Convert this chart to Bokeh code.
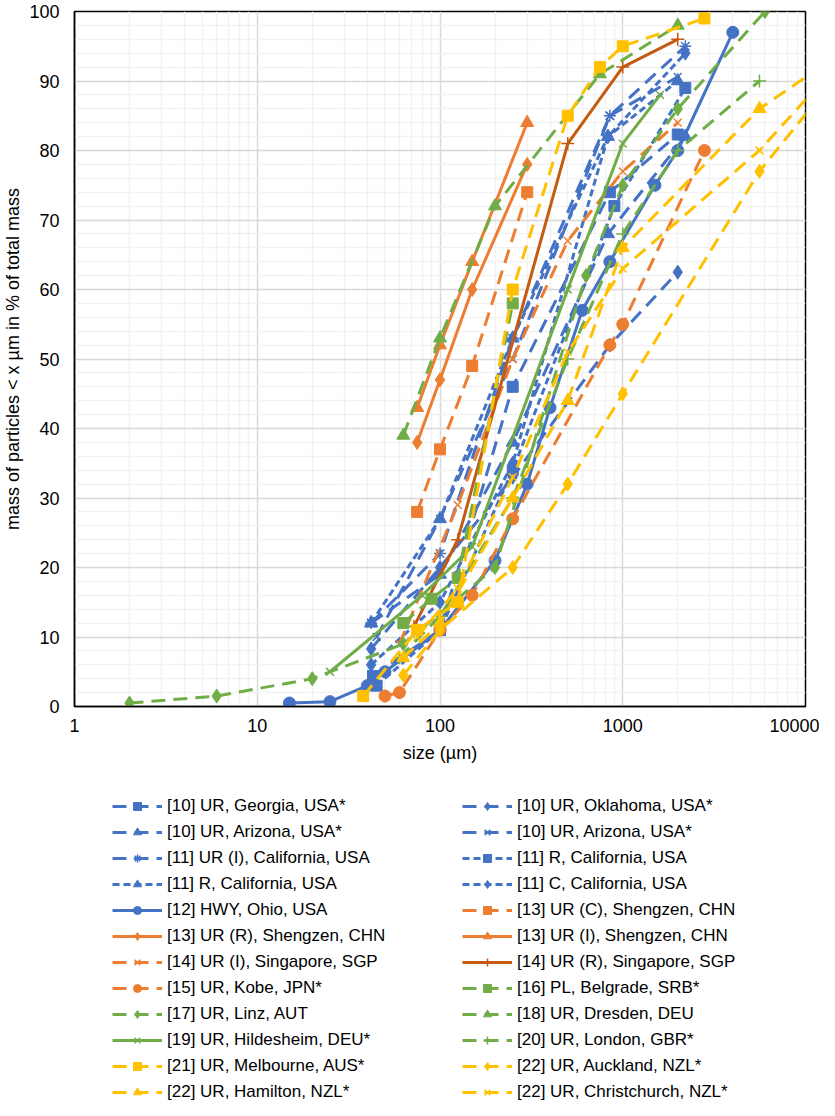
from bokeh.plotting import figure
from bokeh.layouts import column
from bokeh.models import FixedTicker, Legend, LegendItem
from bokeh.embed import file_html
from bokeh.resources import INLINE

BLUE = "#4472C4"; ORANGE = "#ED7D31"; GREEN = "#70AD47"; YELLOW = "#FFC000"; DKOR = "#C55A11"

# ---- data (size in µm, mass % below size) ----
georgia_x = [43, 100, 250, 850, 2000];            georgia_y = [4.4, 11, 46, 74, 82.3]
oklahoma_x = [42, 100, 250, 850, 2000];           oklahoma_y = [8.3, 20, 33, 52, 62.5]
arizona_tri_x = [42, 100, 250, 830, 2200];        arizona_tri_y = [12, 19, 38, 68, 82]
arizona_x_x = [45, 100, 250, 850, 2000];          arizona_x_y = [10, 27, 50, 85, 90.6]
calI_x = [42, 100, 250, 850, 2200];               calI_y = [12, 22, 53, 85, 95]
calR_sq_x = [45, 100, 250, 900, 2200];            calR_sq_y = [3, 11, 34, 72, 89]
calR_tri_x = [42, 100, 250, 830, 2000];           calR_tri_y = [12, 27, 53, 82, 90]
calC_x = [42, 100, 250, 830, 2200];               calC_y = [6, 15, 35, 82, 94]
ohio_x = [15, 25, 40, 50, 100, 200, 300, 400, 600, 850, 1500, 2000, 4000]
ohio_y = [0.5, 0.7, 3, 5, 11, 21, 32, 43, 57, 64, 75, 80, 97]
shC_x = [75, 100, 150, 300];                      shC_y = [28, 37, 49, 74]
shR_x = [75, 100, 150, 300];                      shR_y = [38, 47, 60, 78]
shI_x = [75, 100, 150, 300];                      shI_y = [43, 52, 64, 84]
sgI_x = [60, 125, 250, 500, 1000, 2000];          sgI_y = [9, 29, 50, 67, 77, 84]
sgR_x = [72, 125, 500, 1000, 2000];               sgR_y = [11.5, 24, 81, 92, 96]
kobe_x = [50, 60, 100, 150, 250, 850, 1000, 2800]; kobe_y = [1.5, 2, 11, 16, 27, 52, 55, 80]
belgrade_x = [63, 90, 125, 250];                  belgrade_y = [12, 15.5, 18.5, 58]
linz_x = [2, 6, 20, 63, 200, 630, 1000, 2000, 6000]; linz_y = [0.5, 1.5, 4, 9, 20, 62, 75, 86, 100]
dresden_x = [63, 100, 200, 750, 2000];            dresden_y = [39, 53, 72, 91, 98]
hild_x = [25, 80, 150, 500, 1000, 1600];          hild_y = [5, 16, 23, 60, 81, 88]
london_x = [60, 100, 250, 500, 1000, 2000, 5600]; london_y = [7, 13, 30, 50, 68, 80, 90]
melb_x = [38, 75, 125, 250, 500, 750, 1000, 2800]; melb_y = [1.5, 11, 15, 60, 85, 92, 95, 99]
auck_x = [63, 100, 250, 500, 1000, 5600, 20000];  auck_y = [4.5, 11, 20, 32, 45, 77, 95]
hamil_x = [63, 100, 250, 500, 1000, 5600, 20000]; hamil_y = [7, 12, 30, 44, 66, 86, 96]
christ_x = [75, 125, 250, 500, 1000, 5600, 20000]; christ_y = [10, 17, 33, 51, 63, 80, 96]

LD = "14 8"   # long dash
SD = "7 4"    # short dash
series = [
    ("[10] UR, Georgia, USA*", georgia_x, georgia_y, BLUE, "square", LD),
    ("[10] UR, Oklahoma, USA*", oklahoma_x, oklahoma_y, BLUE, "diamond", LD),
    ("[10] UR, Arizona, USA*", arizona_tri_x, arizona_tri_y, BLUE, "triangle", LD),
    ("[10] UR, Arizona, USA*", arizona_x_x, arizona_x_y, BLUE, "x", LD),
    ("[11] UR (I), California, USA", calI_x, calI_y, BLUE, "asterisk", LD),
    ("[11] R, California, USA", calR_sq_x, calR_sq_y, BLUE, "square", SD),
    ("[11] R, California, USA", calR_tri_x, calR_tri_y, BLUE, "triangle", SD),
    ("[11] C, California, USA", calC_x, calC_y, BLUE, "diamond", SD),
    ("[12] HWY, Ohio, USA", ohio_x, ohio_y, BLUE, "circle", "solid"),
    ("[13] UR (C), Shengzen, CHN", shC_x, shC_y, ORANGE, "square", LD),
    ("[13] UR (R), Shengzen, CHN", shR_x, shR_y, ORANGE, "diamond", "solid"),
    ("[13] UR (I), Shengzen, CHN", shI_x, shI_y, ORANGE, "triangle", "solid"),
    ("[14] UR (I), Singapore, SGP", sgI_x, sgI_y, ORANGE, "x", LD),
    ("[14] UR (R), Singapore, SGP", sgR_x, sgR_y, DKOR, "cross", "solid"),
    ("[15] UR, Kobe, JPN*", kobe_x, kobe_y, ORANGE, "circle", LD),
    ("[16] PL, Belgrade, SRB*", belgrade_x, belgrade_y, GREEN, "square", LD),
    ("[17] UR, Linz, AUT", linz_x, linz_y, GREEN, "diamond", LD),
    ("[18] UR, Dresden, DEU", dresden_x, dresden_y, GREEN, "triangle", LD),
    ("[19] UR, Hildesheim, DEU*", hild_x, hild_y, GREEN, "x", "solid"),
    ("[20] UR, London, GBR*", london_x, london_y, GREEN, "cross", LD),
    ("[21] UR, Melbourne, AUS*", melb_x, melb_y, YELLOW, "square", LD),
    ("[22] UR, Auckland, NZL*", auck_x, auck_y, YELLOW, "diamond", LD),
    ("[22] UR, Hamilton, NZL*", hamil_x, hamil_y, YELLOW, "triangle", LD),
    ("[22] UR, Christchurch, NZL*", christ_x, christ_y, YELLOW, "x", LD),
]

msize = {"square": 11, "diamond": 14, "triangle": 13, "x": 11, "asterisk": 12, "circle": 12, "cross": 13}
mwidth = {"x": 1.5, "cross": 1.5, "asterisk": 1.5}

FONT = "Liberation Sans"
p = figure(x_axis_type="log", x_range=(1, 10000), y_range=(0, 100),
           frame_width=731, frame_height=695, min_border_left=56, min_border_right=14,
           min_border_top=11, min_border_bottom=70,
           output_backend="svg", toolbar_location=None,
           x_axis_label="size (µm)", y_axis_label="mass of particles < x µm in % of total mass")

decades = [1, 10, 100, 1000, 10000]
minor_x = [d * k for d in decades[:-1] for k in range(2, 10)]
p.xaxis.ticker = FixedTicker(ticks=decades, minor_ticks=minor_x)
p.xaxis.major_label_overrides = {d: str(d) for d in decades}
p.yaxis.ticker = FixedTicker(ticks=list(range(0, 101, 10)), minor_ticks=list(range(0, 101, 2)))

for ax in (p.xaxis, p.yaxis):
    ax.major_tick_line_color = None
    ax.minor_tick_line_color = None
    ax.axis_line_color = "black"
    ax.axis_line_width = 1.5
    ax.major_label_text_font = FONT
    ax.major_label_text_font_size = "18px"
    ax.major_label_text_color = "#000000"
    ax.axis_label_text_font = FONT
    ax.axis_label_text_font_size = "18px"
    ax.axis_label_text_font_style = "normal"
    ax.axis_label_text_color = "#000000"
p.yaxis.major_label_standoff = 9
p.xaxis.major_label_standoff = 6
p.xaxis.axis_label_standoff = 8
p.yaxis.axis_label_standoff = 3

for g in (p.xgrid, p.ygrid):
    g.grid_line_color = "#D9D9D9"
    g.grid_line_width = 1.5
    g.minor_grid_line_color = "#F2F2F2"
    g.minor_grid_line_width = 1.5
p.outline_line_color = "black"
p.outline_line_width = 1.5
p.background_fill_color = "white"

# legend lives in its own panel below the chart
q = figure(width=819, height=330, x_range=(0, 1), y_range=(0, 1),
           min_border=0, output_backend="svg", toolbar_location=None)
q.axis.visible = False
q.grid.visible = False
q.outline_line_color = None

items = []
for label, xs, ys, col, mk, dash in series:
    p.line(xs, ys, line_color=col, line_width=3, line_dash=dash)
    p.scatter(xs, ys, marker=mk, size=msize[mk], fill_color=col, line_color=col,
              line_width=mwidth.get(mk, 1))
    # legend samples (drawn outside the visible range of the legend panel)
    l1 = q.line([5, 6], [5, 6], line_color=col, line_width=3, line_dash=dash)
    l2 = q.scatter([5], [5], marker=mk, size=msize[mk] - 1, fill_color=col, line_color=col,
                   line_width=mwidth.get(mk, 1))
    items.append(LegendItem(label=label, renderers=[l1, l2]))

legend = Legend(items=items, ncols=2, orientation="horizontal", location=(38, 4),
                glyph_width=50, glyph_height=20, label_height=20, label_width=289,
                label_standoff=5, spacing=6, padding=0, margin=0,
                border_line_color=None, background_fill_alpha=0)
legend.label_text_font = FONT
legend.label_text_font_size = "17px"
legend.label_text_color = "#000000"
q.add_layout(legend, "center")

open("out.html", "w").write(file_html(column(p, q, spacing=0), INLINE))
